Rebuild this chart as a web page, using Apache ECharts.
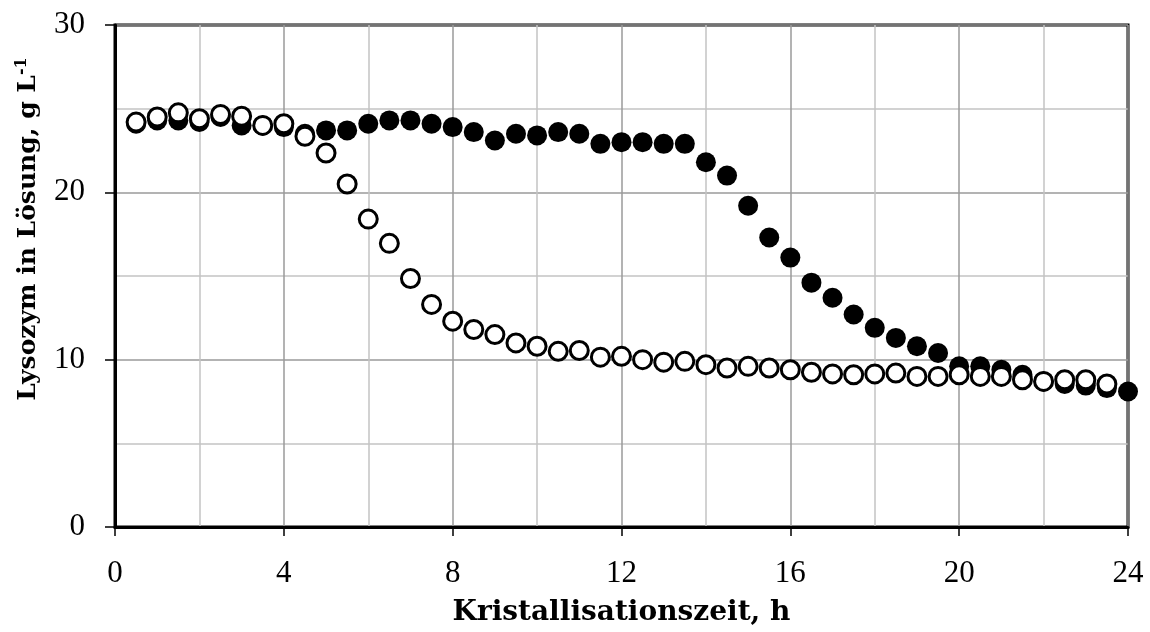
<!DOCTYPE html>
<html>
<head>
<meta charset="utf-8">
<style>
  html, body { margin: 0; padding: 0; background: #fff; }
  #chart { width: 1150px; height: 632px; }
</style>
<script src="https://cdn.jsdelivr.net/npm/echarts@6/dist/echarts.min.js"></script>
</head>
<body>
<div id="chart"></div>
<script>
// Sampling times, h
var hoursFilled = [0.5, 1, 1.5, 2, 2.5, 3, 3.5, 4, 4.5, 5, 5.5, 6, 6.5, 7, 7.5, 8,
  8.5, 9, 9.5, 10, 10.5, 11, 11.5, 12, 12.5, 13, 13.5, 14, 14.5, 15, 15.5, 16,
  16.5, 17, 17.5, 18, 18.5, 19, 19.5, 20, 20.5, 21, 21.5, 22, 22.5, 23, 23.5, 24];
var hoursOpen = [0.5, 1, 1.5, 2, 2.5, 3, 3.5, 4, 4.5, 5, 5.5, 6, 6.5, 7, 7.5, 8,
  8.5, 9, 9.5, 10, 10.5, 11, 11.5, 12, 12.5, 13, 13.5, 14, 14.5, 15, 15.5, 16,
  16.5, 17, 17.5, 18, 18.5, 19, 19.5, 20, 20.5, 21, 21.5, 22, 22.5, 23, 23.5];

// Lysozyme concentration in solution, g/L
var lysozymFilled = [24.1, 24.3, 24.3, 24.2, 24.5, 24.0, 24.0, 23.9, 23.5, 23.7, 23.7, 24.1,
  24.3, 24.3, 24.1, 23.9, 23.6, 23.1, 23.5, 23.4, 23.6, 23.5, 22.9, 23.0,
  23.0, 22.9, 22.9, 21.8, 21.0, 19.2, 17.3, 16.1, 14.6, 13.7, 12.7, 11.9,
  11.3, 10.8, 10.4, 9.6, 9.6, 9.4, 9.1, 8.7, 8.55, 8.45, 8.3, 8.1];
var lysozymOpen = [24.2, 24.5, 24.75, 24.4, 24.65, 24.55, 24.0, 24.1, 23.35, 22.35, 20.5, 18.4,
  16.95, 14.85, 13.3, 12.3, 11.8, 11.5, 11.0, 10.8, 10.5, 10.55, 10.15, 10.2,
  10.0, 9.85, 9.9, 9.7, 9.5, 9.6, 9.5, 9.4, 9.25, 9.15, 9.1, 9.15, 9.2, 9.0,
  9.0, 9.1, 9.0, 9.0, 8.8, 8.7, 8.8, 8.8, 8.55];

var xTicks = [0, 4, 8, 12, 16, 20, 24];
var yTicks = [0, 10, 20, 30];

var TITLE_FONT = '"DejaVu Serif", "Liberation Serif", serif';
var LABEL_FONT = '"Liberation Serif", "DejaVu Serif", serif';

function pairs(xs, ys) {
  return xs.map(function (x, i) { return [x, ys[i]]; });
}

var chart = echarts.init(document.getElementById('chart'), null, { renderer: 'canvas' });

chart.setOption({
  animation: false,
  backgroundColor: '#ffffff',
  grid: {
    left: 115, right: 22, top: 25, bottom: 101,
    show: true, borderColor: '#000', borderWidth: 3, backgroundColor: 'transparent'
  },
  xAxis: {
    type: 'value',
    min: xTicks[0], max: xTicks[xTicks.length - 1], interval: 4,
    name: 'Kristallisationszeit, h',
    nameLocation: 'middle', nameGap: 72,
    nameTextStyle: { fontFamily: TITLE_FONT, fontWeight: 'bold', fontSize: 28, color: '#000' },
    axisLine: { show: true, lineStyle: { color: '#000', width: 3 } },
    axisTick: { show: true, inside: false, length: 9, lineStyle: { color: '#000', width: 1.5 } },
    axisLabel: { fontFamily: LABEL_FONT, fontSize: 31, color: '#000', margin: 31 },
    splitLine: { show: true, lineStyle: { color: '#9a9a9a', width: 1.5 } },
    minorTick: { show: false, splitNumber: 2 },
    minorSplitLine: { show: true, lineStyle: { color: '#c4c4c4', width: 1.5 } }
  },
  yAxis: {
    type: 'value',
    min: yTicks[0], max: yTicks[yTicks.length - 1], interval: 10,
    axisLine: { show: true, lineStyle: { color: '#000', width: 3 } },
    axisTick: { show: true, inside: false, length: 10, lineStyle: { color: '#000', width: 1.5 } },
    axisLabel: { fontFamily: LABEL_FONT, fontSize: 31, color: '#000', margin: 30 },
    splitLine: { show: true, lineStyle: { color: '#9a9a9a', width: 1.5 } },
    minorTick: { show: false, splitNumber: 2 },
    minorSplitLine: { show: true, lineStyle: { color: '#c4c4c4', width: 1.5 } }
  },
  graphic: [{
    type: 'text',
    x: 28, y: 229,
    rotation: Math.PI / 2,
    style: {
      text: '{t|Lysozym in Lösung, g L}{s|-1}',
      align: 'center', verticalAlign: 'middle',
      rich: {
        t: { fontFamily: TITLE_FONT, fontWeight: 'bold', fontSize: 25, fill: '#000' },
        s: { fontFamily: TITLE_FONT, fontWeight: 'bold', fontSize: 16, fill: '#000', verticalAlign: 'top', padding: [0, 0, 12, 0] }
      }
    }
  }],
  series: [
    {
      name: 'gefüllt',
      type: 'scatter',
      symbol: 'circle',
      symbolSize: 20,
      itemStyle: { color: '#000', opacity: 1 },
      data: pairs(hoursFilled, lysozymFilled),
      z: 2
    },
    {
      name: 'offen',
      type: 'scatter',
      symbol: 'circle',
      symbolSize: 18,
      itemStyle: { color: '#fff', borderColor: '#000', borderWidth: 3, opacity: 1 },
      data: pairs(hoursOpen, lysozymOpen),
      z: 3
    }
  ]
});
</script>
</body>
</html>
